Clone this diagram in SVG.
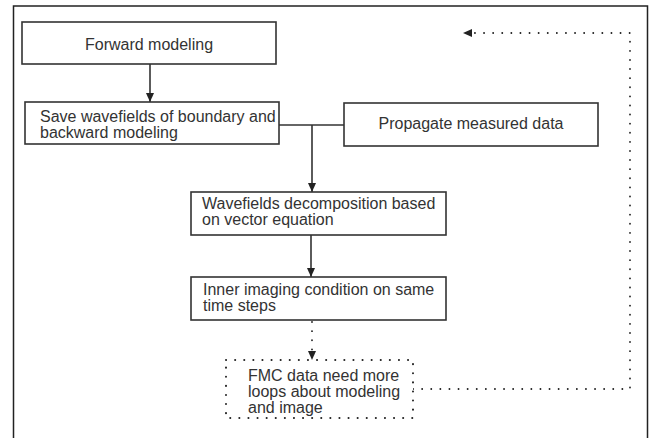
<svg xmlns="http://www.w3.org/2000/svg" width="655" height="438" viewBox="0 0 655 438">
<defs>
<marker id="arr" markerUnits="userSpaceOnUse" markerWidth="10" markerHeight="10" refX="9" refY="4" orient="auto">
<path d="M0,0 L9,4 L0,8 Z" fill="#222"/>
</marker>
<style>
.box{fill:#fff;stroke:#333;stroke-width:1.6}
.dbox{fill:#fff;stroke:#222;stroke-width:2;stroke-dasharray:0.1 9;stroke-linecap:round}
.ln{fill:none;stroke:#333;stroke-width:1.6}
.dl{fill:none;stroke:#222;stroke-width:1.8;stroke-dasharray:0.1 9;stroke-linecap:round}
text{font-family:"Liberation Sans",Arial,sans-serif;font-size:16px;fill:#333}
.c{text-anchor:middle}
</style>
</defs>
<rect width="655" height="438" fill="#fff"/>
<path d="M13.5,440 V6 H647.5 V440" fill="none" stroke="#222" stroke-width="1.5"/>
<g id="connectors">
<path class="ln" d="M150,64 V102" marker-end="url(#arr)"/>
<path class="ln" d="M279,125 H344"/>
<path class="ln" d="M312,125 V192" marker-end="url(#arr)"/>
<path class="ln" d="M311,235 V277" marker-end="url(#arr)"/>
<path class="dl" d="M312,322 V352"/>
<path d="M308,351 L316,351 L312,360 Z" fill="#222"/>
<path class="dl" d="M413,389 H630 V33 H472"/>
<path d="M472,29 L472,37 L463,33 Z" fill="#222"/>
</g>
<g id="forward">
<rect class="box" x="22" y="22" width="254" height="42"/>
<text class="c" x="149" y="50">Forward modeling</text>
</g>
<g id="save">
<rect class="box" x="25" y="102" width="254" height="42"/>
<text x="40" y="122">Save wavefields of boundary and</text>
<text x="40" y="138">backward modeling</text>
</g>
<g id="propagate">
<rect class="box" x="344" y="103" width="254" height="43"/>
<text class="c" x="471" y="129">Propagate measured data</text>
</g>
<g id="decomposition">
<rect class="box" x="191" y="192" width="255" height="43"/>
<text x="202" y="209">Wavefields decomposition based</text>
<text x="202" y="225">on vector equation</text>
</g>
<g id="imaging">
<rect class="box" x="191" y="277" width="255" height="43"/>
<text x="203" y="295">Inner imaging condition on same</text>
<text x="203" y="311">time steps</text>
</g>
<g id="fmc">
<rect class="dbox" x="226" y="360" width="187" height="58"/>
<text x="248" y="381">FMC data need more</text>
<text x="248" y="397">loops about modeling</text>
<text x="248" y="413">and image</text>
</g>
</svg>
